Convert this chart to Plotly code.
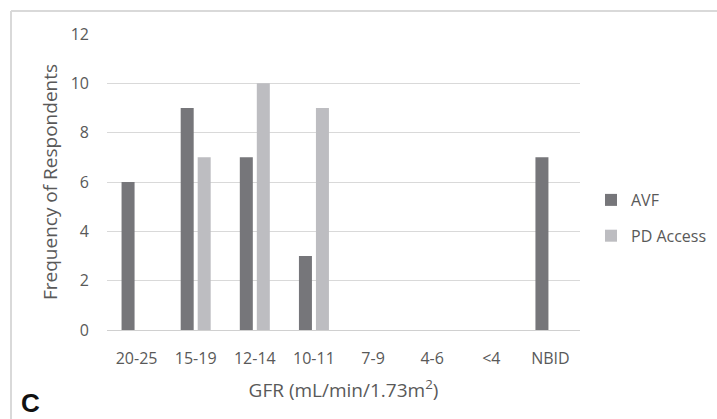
import plotly.graph_objects as go

categories = ["20-25", "15-19", "12-14", "10-11", "7-9", "4-6", "<4", "NBID"]
avf = [6, 9, 7, 3, 0, 0, 0, 7]
pd_access = [0, 7, 10, 9, 0, 0, 0, 0]
y_ticks = [0, 2, 4, 6, 8, 10, 12]

W, H = 717, 419
L, R, T, B = 107, 137, 34, 89
pw, ph = W - L - R, H - T - B

def px(x):
    return (x - L) / pw

def py(y):
    return (H - B - y) / ph

font = "Open Sans, Calibri, Arial, sans-serif"
grey = "#595959"

fig = go.Figure()
fig.add_trace(go.Bar(x=categories, y=avf, name="AVF", legendgroup="a",
                     marker=dict(color="#76767a", line=dict(width=0))))
fig.add_trace(go.Bar(x=categories, y=pd_access, name="PD Access", legendgroup="b",
                     marker=dict(color="#bdbdc1", line=dict(width=0))))

fig.update_layout(
    width=W, height=H,
    margin=dict(l=L, r=R, t=T, b=B, autoexpand=False),
    paper_bgcolor="white", plot_bgcolor="white",
    barmode="group", bargap=0.425, bargroupgap=0.235,
    font=dict(family=font, color=grey, size=15),
    showlegend=True,
    legend=dict(x=px(591), y=py(183), xanchor="left", yanchor="top",
                font=dict(size=16, color=grey), itemwidth=30,
                traceorder="grouped", tracegroupgap=12,
                bgcolor="rgba(0,0,0,0)"),
    xaxis=dict(type="category", showgrid=False, showline=True, linecolor="#d0d0d0",
               linewidth=1, ticks="", tickfont=dict(size=16, color=grey),
               ticklabelstandoff=14, automargin=False,
               title=dict(text="GFR (mL/min/1.73m<sup>2</sup>)", font=dict(size=19, color=grey), standoff=15)),
    yaxis=dict(range=[0, 12], tickvals=y_ticks, showgrid=True, gridcolor="#d9d9d9",
               gridwidth=1, zeroline=False, showline=False, ticks="", automargin=False,
               tickfont=dict(size=16, color=grey), ticklabelstandoff=17,
               title=dict(text="Frequency of Respondents", font=dict(size=19, color=grey), standoff=8)),
    shapes=[
        dict(type="line", xref="paper", yref="paper", x0=px(11), x1=px(717), y0=py(11), y1=py(11),
             line=dict(color="#d9d9d9", width=2)),
        dict(type="line", xref="paper", yref="paper", x0=px(11), x1=px(11), y0=py(11), y1=py(425),
             line=dict(color="#d9d9d9", width=2)),
    ],
    annotations=[
        dict(text="<b>C</b>", xref="paper", yref="paper", x=px(19), y=py(420), xanchor="left",
             yanchor="bottom", showarrow=False,
             font=dict(size=26, color="#111111", family="Liberation Sans, Arial, sans-serif")),
    ],
)

fig.write_html("out.html")
